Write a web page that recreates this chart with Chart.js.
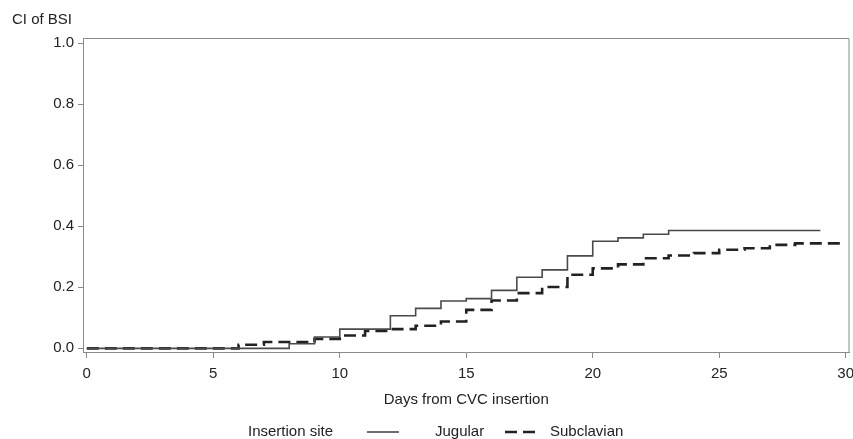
<!DOCTYPE html>
<html>
<head>
<meta charset="utf-8">
<script src="https://cdn.jsdelivr.net/npm/chart.js@4"></script>
<style>
  html, body { margin: 0; padding: 0; background: #fff; }
  #wrap { width: 853px; height: 439px; }
</style>
</head>
<body>
<div id="wrap"><canvas id="ciChart" width="853" height="439"></canvas></div>
<script>
  // cumulative incidence of BSI
  const jugularDays = [0, 8, 9, 10, 12, 13, 14, 15, 16, 17, 18, 19, 20, 21, 22, 23, 29];
  const jugularCI = [0, 0.015, 0.037, 0.063, 0.107, 0.131, 0.155, 0.163, 0.19, 0.233, 0.257, 0.303, 0.351, 0.362, 0.374, 0.386, 0.386];

  const subclavianDays = [0, 6, 7, 9, 10, 11, 12, 13, 14, 15, 16, 17, 18, 19, 20, 21, 22, 23, 24, 25, 26, 27, 28, 30];
  const subclavianCI = [0, 0.012, 0.021, 0.031, 0.042, 0.057, 0.063, 0.074, 0.088, 0.126, 0.157, 0.181, 0.201, 0.241, 0.262, 0.275, 0.295, 0.304, 0.312, 0.323, 0.328, 0.339, 0.344, 0.344];

  const xTicks = [0, 5, 10, 15, 20, 25, 30];
  const yTicks = [0, 0.2, 0.4, 0.6, 0.8, 1.0];

  const font = { family: "'Liberation Sans', Arial, sans-serif", size: 15 };
  const textColor = '#222';
  const frameColor = '#8a8a8a';

  const toPoints = (xs, ys) => xs.map((x, i) => ({ x: x, y: ys[i] }));

  // frame, y title and the legend row
  const extras = {
    id: 'extras',
    afterDraw(chart) {
      const ctx = chart.ctx;
      const a = chart.chartArea;
      ctx.save();
      ctx.strokeStyle = frameColor;
      ctx.lineWidth = 1;
      ctx.beginPath();
      ctx.moveTo(a.left, a.top + 0.5);
      ctx.lineTo(a.right - 0.5, a.top + 0.5);
      ctx.lineTo(a.right - 0.5, a.bottom);
      ctx.stroke();

      ctx.fillStyle = textColor;
      ctx.font = font.size + 'px ' + font.family;
      ctx.textBaseline = 'middle';
      ctx.textAlign = 'left';
      ctx.fillText('CI of BSI', 12, 20);

      const ly = 432;
      ctx.fillText('Insertion site', 248, ly);
      ctx.fillText(chart.data.datasets[0].label, 435, ly);
      ctx.fillText(chart.data.datasets[1].label, 550, ly);

      const ds0 = chart.data.datasets[0];
      ctx.strokeStyle = ds0.borderColor;
      ctx.lineWidth = ds0.borderWidth;
      ctx.beginPath();
      ctx.moveTo(367, ly);
      ctx.lineTo(399, ly);
      ctx.stroke();

      const ds1 = chart.data.datasets[1];
      ctx.strokeStyle = ds1.borderColor;
      ctx.lineWidth = ds1.borderWidth;
      ctx.setLineDash([12, 6]);
      ctx.beginPath();
      ctx.moveTo(505, ly);
      ctx.lineTo(535, ly);
      ctx.stroke();
      ctx.restore();
    }
  };

  const config = {
    type: 'line',
    data: {
      datasets: [{
        label: 'Jugular',
        data: toPoints(jugularDays, jugularCI),
        borderColor: '#4a4a4a',
        borderWidth: 1.6,
        stepped: 'before',
        pointRadius: 0,
        fill: false
      }, {
        label: 'Subclavian',
        data: toPoints(subclavianDays, subclavianCI),
        borderColor: '#222',
        borderWidth: 2.6,
        borderDash: [12, 6],
        stepped: 'before',
        pointRadius: 0,
        fill: false
      }]
    },
    options: {
      responsive: false,
      animation: false,
      layout: { padding: { top: 38, right: 3.5, left: 0, bottom: 0 } },
      plugins: {
        legend: { display: false },
        tooltip: { enabled: false }
      },
      scales: {
        x: {
          type: 'linear',
          min: -0.15,
          max: 30.15,
          afterBuildTicks: s => { s.ticks = xTicks.map(v => ({ value: v })); },
          afterFit: s => {
            s.height = 87;
            s.paddingLeft = 0;
            s.paddingRight = 0;
          },
          grid: { drawOnChartArea: false, drawTicks: true, tickLength: 6, color: frameColor },
          border: { display: true, color: frameColor },
          ticks: { font: font, color: textColor, padding: 7, maxRotation: 0 },
          title: {
            display: true,
            text: 'Days from CVC insertion',
            font: font,
            color: textColor,
            padding: { top: 0, bottom: 30 }
          }
        },
        y: {
          type: 'linear',
          min: -0.012,
          max: 1.017,
          afterBuildTicks: s => { s.ticks = yTicks.map(v => ({ value: v })); },
          afterFit: s => { s.width = 83; },
          grid: { drawOnChartArea: false, drawTicks: true, tickLength: 5, color: frameColor },
          border: { display: true, color: frameColor },
          ticks: {
            font: font,
            color: textColor,
            padding: 4,
            callback: v => v.toFixed(1)
          }
        }
      }
    },
    plugins: [extras]
  };

  const ciChart = new Chart(document.getElementById('ciChart'), config);
</script>
</body>
</html>
